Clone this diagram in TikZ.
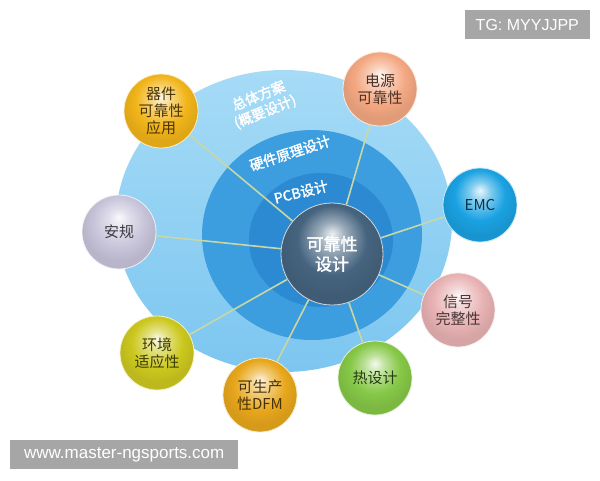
\documentclass[tikz,border=0pt]{standalone}
\usepackage{fontspec}
\setmainfont{Liberation Sans}
\newfontfamily\cjk[AutoFakeBold=2]{Noto Sans CJK SC}
\usepackage{tikz}

\definecolor{ringA}{HTML}{7CC6F0}
\definecolor{ringAtop}{HTML}{A6DBF6}
\definecolor{ringB}{HTML}{3C9DDF}
\definecolor{ringC}{HTML}{2C8AD2}
\definecolor{coreblue}{HTML}{46647F}
\definecolor{linkc}{HTML}{C8D7A3}
\definecolor{qijian}{HTML}{F2B51A}
\definecolor{dianyuan}{HTML}{F4A882}
\definecolor{emcblue}{HTML}{1AA2E2}
\definecolor{anguei}{HTML}{C8C4DA}
\definecolor{xinhao}{HTML}{E8B2B3}
\definecolor{rexi}{HTML}{86C847}
\definecolor{dfmgold}{HTML}{E8A71C}
\definecolor{huanjing}{HTML}{CCC81F}
\definecolor{wmgray}{HTML}{A6A6A6}

% glossy ball, highlight near the top
\colorlet{ballc}{white}
\pgfdeclareradialshading[ballc]{glossy}{\pgfpoint{0bp}{10bp}}{%
  color(0bp)=(ballc!10!white); color(7bp)=(ballc!55!white);
  color(17bp)=(ballc); color(25bp)=(ballc!92!black); color(50bp)=(ballc!92!black)}

\begin{document}
\begin{tikzpicture}[x=1pt, y=-1pt,
    ball/.style={circle, minimum size=74pt, inner sep=0pt, align=center,
      draw=white!75!#1, line width=0.8pt, shading=glossy,
      /utils/exec={\colorlet{ballc}{#1}}, text=#1!30!black,
      font=\cjk\fontsize{15}{17}\selectfont},
    link/.style={draw=linkc, line width=1.6pt},
    ringtext/.style={text=white, align=center, inner sep=0pt,
      font=\cjk\bfseries\fontsize{14}{17}\selectfont},
    wm/.style={fill=wmgray, text=white, minimum height=29pt, inner sep=0pt}]

    % Canvas
    \fill[white] (0,0) rectangle (600,480);
    \useasboundingbox (0,0) rectangle (600,480);

    % Draw the three rings
    \shade[top color=ringAtop, bottom color=ringA] (284,221) ellipse [x radius=168, y radius=151];
    \fill[ringB] (312,235) ellipse [x radius=110, y radius=105];
    \fill[ringC] (321,240) ellipse [x radius=72, y radius=67];

    % Ring labels
    \node[ringtext, rotate=22] (plan) at (262,104) {总体方案\\(概要设计)};
    \node[ringtext, rotate=18] (schem) at (290,153) {硬件原理设计};
    \node[ringtext, rotate=14] (pcb) at (301,192) {PCB设计};

    % Centre sphere
    \node[ball=coreblue, minimum size=102pt, text=white,
      font=\cjk\bfseries\fontsize{17}{20}\selectfont] (core) at (332,254) {可靠性\\设计};

    % Satellites and their links
    \foreach \n/\x/\y/\c/\t in {qj/161/111/qijian/{器件\\可靠性\\应用},
      dy/380/89/dianyuan/{电源\\可靠性}, emc/480/205/emcblue/EMC,
      ag/119/232/anguei/安规, xh/458/310/xinhao/{信号\\完整性},
      rs/375/378/rexi/热设计, dfm/260/395/dfmgold/{可生产\\性DFM},
      hj/157/353/huanjing/{环境\\适应性}} {
      \node[ball=\c] (\n) at (\x,\y) {\t};
      \draw[link] (core) -- (\n);
    }

    % Watermarks
    \node[wm, anchor=north east, minimum width=125pt, font=\fontsize{16}{18}\selectfont] (tg) at (590,10) {TG: MYYJJPP};
    \node[wm, anchor=north west, minimum width=228pt, font=\fontsize{17}{19}\selectfont] (url) at (10,440) {www.master-ngsports.com};
\end{tikzpicture}
\end{document}
